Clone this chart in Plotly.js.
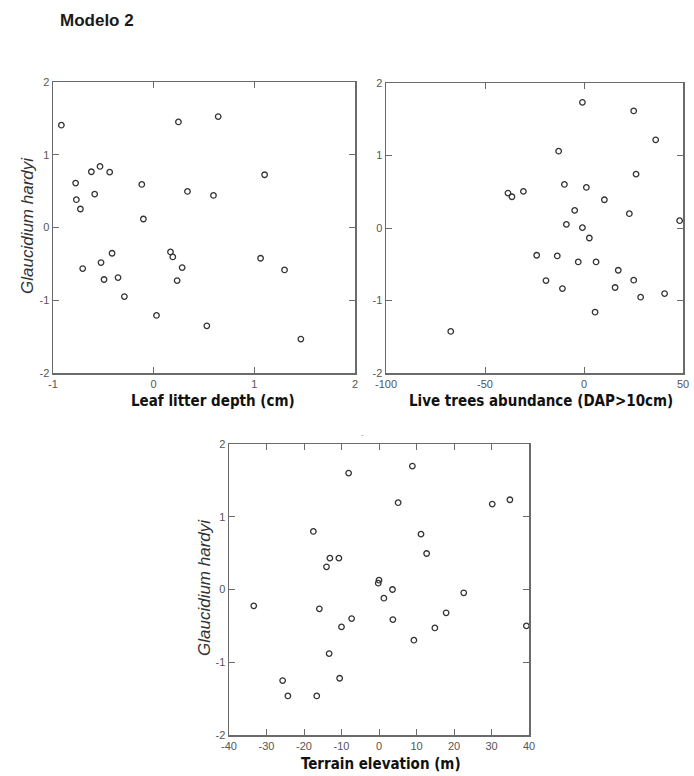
<!DOCTYPE html>
<html>
<head>
<meta charset="utf-8">
<script src="https://cdn.plot.ly/plotly-3.0.1.min.js"></script>
<style>
  html, body { margin: 0; padding: 0; background: #ffffff; }
  #chart { width: 694px; height: 776px; }
</style>
</head>
<body>
<div id="chart"></div>
<script>
// ---- Data ----
const chartTitle = "Modelo 2";
const yLabel = "Glaucidium hardyi";

// Panel 1: Leaf litter depth (cm)
const leafX = [-0.917, 0.246, 0.641, -0.619, -0.533, -0.437, -0.775, -0.586, -0.768, -0.728,
               -0.118, -0.102, 0.336, 0.594, 1.102, -0.413, -0.523, -0.705, -0.493, -0.354,
               -0.291, 0.167, 0.190, 0.283, 0.233, 0.028, 0.528, 1.062, 1.300, 1.462];
const leafY = [1.406, 1.451, 1.525, 0.766, 0.839, 0.761, 0.610, 0.459, 0.382, 0.254,
               0.592, 0.117, 0.496, 0.441, 0.725, -0.354, -0.482, -0.565, -0.715, -0.688,
               -0.949, -0.336, -0.405, -0.551, -0.729, -1.209, -1.351, -0.423, -0.583, -1.534];

// Panel 2: Live trees abundance (DAP>10cm)
const treesX = [-0.8, 25.1, 36.2, -12.8, 26.3, -9.9, 1.2, -38.4, -36.4, -30.6,
                10.3, -4.7, 22.9, 48.3, -8.9, -0.8, 2.7, -23.9, -13.5, -2.9,
                6.1, 17.3, -19.2, -10.9, 15.7, 25.1, 28.6, 40.7, 5.6, -67.3];
const treesY = [1.734, 1.615, 1.216, 1.060, 0.743, 0.601, 0.560, 0.482, 0.431, 0.505,
                0.390, 0.243, 0.197, 0.101, 0.050, 0.005, -0.138, -0.376, -0.385, -0.468,
                -0.468, -0.583, -0.725, -0.835, -0.821, -0.720, -0.954, -0.904, -1.161, -1.427];

// Panel 3: Terrain elevation (m)
const elevX = [-8.1, 8.9, 5.1, 30.2, 34.9, -17.5, 11.2, 12.7, -13.1, -10.7,
               -14.0, 0.0, -0.2, 3.6, 1.3, 22.6, -33.4, -15.9, -7.3, 3.7,
               -10.0, 17.9, 14.9, 39.3, 9.3, -13.3, -10.5, -25.7, -24.3, -16.6];
const elevY = [1.601, 1.697, 1.193, 1.174, 1.234, 0.798, 0.761, 0.495, 0.431, 0.431,
               0.312, 0.128, 0.087, 0.000, -0.119, -0.046, -0.225, -0.266, -0.399, -0.413,
               -0.514, -0.321, -0.528, -0.500, -0.697, -0.881, -1.220, -1.252, -1.463, -1.463];

// Tick values and labels
const yTicks = [-2, -1, 0, 1, 2];
const yTickText = ["-2", "-1", "0", "1", "2"];
const leafTicks = [-1, 0, 1, 2];
const leafTickText = ["-1", "0", "1", "2"];
const treesTicks = [-100, -50, 0, 50];
const treesTickText = ["-100", "-50", "0", "50"];
const elevTicks = [-40, -30, -20, -10, 0, 10, 20, 30, 40];
const elevTickText = ["-40", "-30", "-20", "-10", "0", "10", "20", "30", "40"];

const xTitles = ["Leaf litter depth (cm)", "Live trees abundance (DAP>10cm)", "Terrain elevation (m)"];

// ---- Layout helpers (pixel -> paper) ----
const W = 694, H = 776;
const px = v => v / W;
const py = v => 1 - v / H;

const tickFont = { family: "Liberation Sans, Arial, sans-serif", size: 11, color: "#555555" };
const xTitleFont = { family: "DejaVu Sans Condensed, Liberation Sans, sans-serif", size: 15, color: "#111111", weight: 700 };

function axisBase(extra) {
  return Object.assign({
    showgrid: false, zeroline: false,
    showline: true, linecolor: "#6a6a6a", linewidth: 1.5,
    mirror: "ticks", ticks: "inside", ticklen: 6, tickwidth: 1, tickcolor: "#6a6a6a",
    tickfont: tickFont, tickmode: "array", fixedrange: true
  }, extra);
}

const markerStyle = { symbol: "circle-open", size: 5.5, color: "#333333", line: { width: 1.3, color: "#333333" } };

const data = [
  { type: "scatter", mode: "markers", x: leafX, y: leafY, xaxis: "x", yaxis: "y", marker: markerStyle, hoverinfo: "x+y" },
  { type: "scatter", mode: "markers", x: treesX, y: treesY, xaxis: "x2", yaxis: "y2", marker: markerStyle, hoverinfo: "x+y" },
  { type: "scatter", mode: "markers", x: elevX, y: elevY, xaxis: "x3", yaxis: "y3", marker: markerStyle, hoverinfo: "x+y" }
];

const layout = {
  width: W, height: H,
  margin: { l: 0, r: 0, t: 0, b: 0 },
  paper_bgcolor: "#ffffff", plot_bgcolor: "#ffffff",
  showlegend: false,
  xaxis:  axisBase({ domain: [px(53), px(355)], range: [-1, 2], tickvals: leafTicks, ticktext: leafTickText, anchor: "y" }),
  yaxis:  axisBase({ domain: [py(373), py(82)], range: [-2, 2], tickvals: yTicks, ticktext: yTickText, anchor: "x" }),
  xaxis2: axisBase({ domain: [px(386), px(683)], range: [-100, 50], tickvals: treesTicks, ticktext: treesTickText, anchor: "y2" }),
  yaxis2: axisBase({ domain: [py(373), py(83)], range: [-2, 2], tickvals: yTicks, ticktext: yTickText, anchor: "x2" }),
  xaxis3: axisBase({ domain: [px(229), px(529)], range: [-40, 40], tickvals: elevTicks, ticktext: elevTickText, anchor: "y3" }),
  yaxis3: axisBase({ domain: [py(735), py(444)], range: [-2, 2], tickvals: yTicks, ticktext: yTickText, anchor: "x3" }),
  annotations: [
    { text: "<b>" + chartTitle + "</b>", xref: "paper", yref: "paper", x: px(58), y: py(20),
      xanchor: "left", yanchor: "middle", showarrow: false,
      font: { family: "Liberation Sans, Arial, sans-serif", size: 17, color: "#1a1a1a" } },
    { text: xTitles[0], xref: "paper", yref: "paper", x: px(213), y: py(401),
      xanchor: "center", yanchor: "middle", showarrow: false, font: xTitleFont },
    { text: xTitles[1], xref: "paper", yref: "paper", x: px(541), y: py(401),
      xanchor: "center", yanchor: "middle", showarrow: false, font: xTitleFont },
    { text: xTitles[2], xref: "paper", yref: "paper", x: px(381), y: py(764),
      xanchor: "center", yanchor: "middle", showarrow: false, font: xTitleFont },
    { text: "<i>" + yLabel + "</i>", xref: "paper", yref: "paper", x: px(27), y: py(226),
      xanchor: "center", yanchor: "middle", textangle: -90, showarrow: false,
      font: { family: "Liberation Sans, Arial, sans-serif", size: 17, color: "#333333" } },
    { text: "<i>" + yLabel + "</i>", xref: "paper", yref: "paper", x: px(204), y: py(588),
      xanchor: "center", yanchor: "middle", textangle: -90, showarrow: false,
      font: { family: "Liberation Sans, Arial, sans-serif", size: 17, color: "#333333" } },
    { text: "-", xref: "paper", yref: "paper", x: px(362), y: py(434),
      xanchor: "center", yanchor: "middle", showarrow: false,
      font: { family: "Liberation Sans, Arial, sans-serif", size: 8, color: "#888888" } }
  ]
};

Plotly.newPlot("chart", data, layout, { displayModeBar: false, staticPlot: true });
</script>
</body>
</html>
